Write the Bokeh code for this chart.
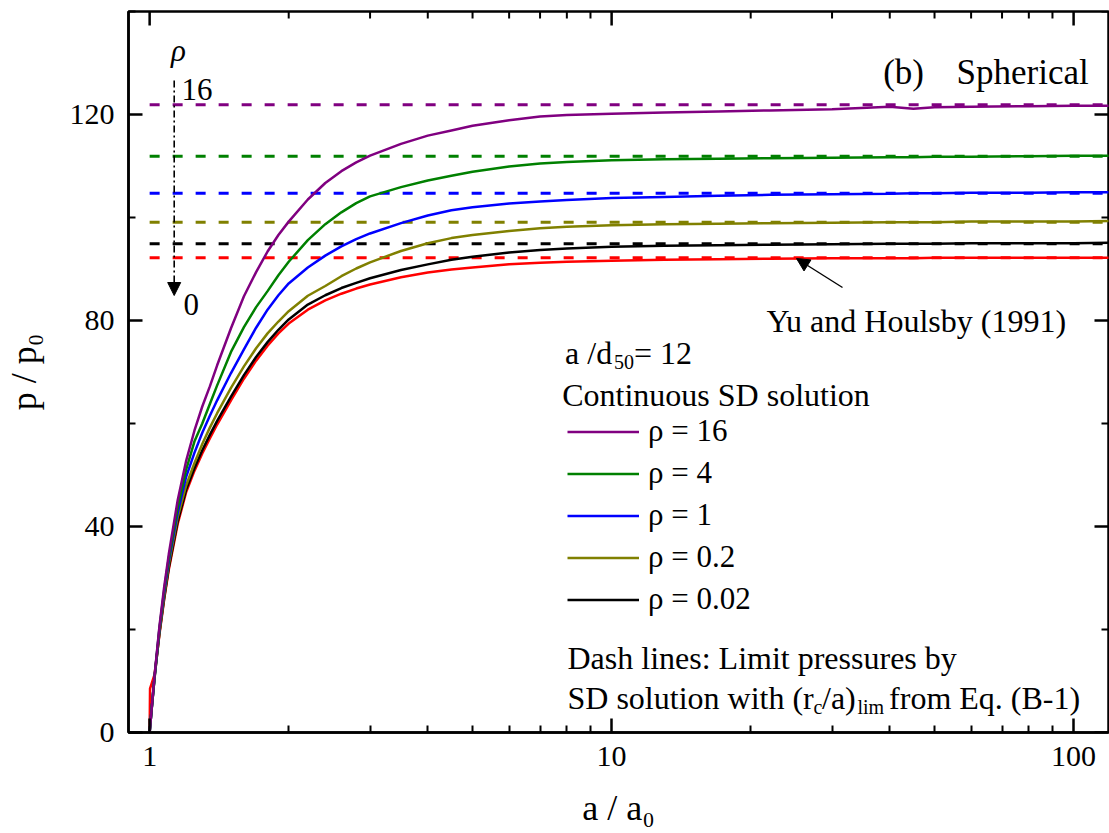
import numpy as np
from bokeh.plotting import figure
from bokeh.models import (FixedTicker, Label, Arrow, NormalHead, Legend, LegendItem, Range1d,
                          PrintfTickFormatter)
from bokeh.embed import file_html
from bokeh.resources import INLINE

# ---------------- data ----------------
a_ratio = [1, 1.002, 1.01, 1.025, 1.05, 1.075, 1.1, 1.15, 1.2, 1.25, 1.3, 1.35, 1.4, 1.5, 1.6,
           1.7, 1.8, 1.9, 2, 2.2, 2.4, 2.6, 2.8, 3, 3.5, 4, 4.5, 5, 6, 7, 8, 10, 13, 17, 22,
           30, 40, 45, 50, 60, 80, 100, 120]

p_rho16 = [0, 0.95, 4.6, 11.1, 20.6, 28.2, 34.6, 45.1, 52.8, 58.6, 63.3, 67.2, 71.3, 78.5, 84.7,
           89.4, 93.4, 96.6, 99.2, 103.5, 106.7, 109.0, 110.7, 112.0, 114.3, 115.9, 116.9, 117.8,
           118.9, 119.6, 119.9, 120.15, 120.4, 120.6, 120.8, 121.0, 121.5, 121.1, 121.4, 121.5,
           121.6, 121.7, 121.7]
p_rho4 = [0, 0.93, 4.55, 10.9, 20.2, 27.6, 33.9, 43.7, 51.1, 56.5, 60.0, 63.8, 67.4, 73.9, 78.7,
          82.6, 85.7, 88.8, 91.4, 95.6, 98.7, 101.0, 102.8, 104.1, 105.9, 107.2, 108.1, 108.9,
          109.9, 110.5, 110.8, 111.1, 111.3, 111.4, 111.5, 111.6, 111.7, 111.7, 111.8, 111.8,
          111.9, 112.0, 112.0]
p_rho1 = [0, 0.95, 4.5, 10.8, 20.0, 27.1, 33.3, 42.7, 49.7, 54.3, 58.2, 61.5, 64.5, 69.8, 74.4,
          78.6, 82.1, 84.9, 87.2, 90.3, 92.6, 94.4, 95.8, 96.9, 98.9, 100.4, 101.4, 102.0,
          102.7, 103.1, 103.4, 103.8, 104.0, 104.2, 104.4, 104.5, 104.6, 104.7, 104.7, 104.8,
          104.8, 104.9, 104.9]
p_rho02 = [0, 0.95, 4.45, 10.6, 19.5, 26.5, 32.6, 41.8, 48.0, 52.3, 56.0, 59.2, 62.0, 66.9, 71.1,
           74.6, 77.5, 79.8, 81.8, 84.8, 86.7, 88.6, 90.1, 91.3, 93.5, 95.0, 96.0, 96.6,
           97.4, 97.9, 98.2, 98.5, 98.7, 98.8, 98.9, 99.0, 99.1, 99.1, 99.1, 99.2,
           99.2, 99.2, 99.3]
p_rho002 = [0, 0.93, 4.5, 10.7, 19.3, 26.1, 32.0, 41.0, 47.2, 51.3, 54.8, 57.8, 60.5, 65.2, 69.4,
            72.9, 75.8, 78.2, 80.2, 83.1, 84.9, 86.3, 87.3, 88.2, 89.8, 90.9, 91.8, 92.4,
            93.2, 93.7, 94.0, 94.3, 94.5, 94.6, 94.7, 94.8, 94.9, 94.9, 94.9, 95.0,
            95.0, 95.0, 95.1]
p_yu_houlsby = [0, 8.5, 9.5, 11.3, 19.0, 25.8, 31.6, 40.5, 46.7, 50.8, 54.2, 57.1, 59.8, 64.5, 68.7,
                72.2, 75.1, 77.5, 79.4, 82.1, 83.9, 85.2, 86.2, 87.0, 88.4, 89.3, 89.9, 90.3,
                90.9, 91.2, 91.4, 91.6, 91.8, 91.9, 92.0, 92.1, 92.1, 92.1, 92.2, 92.2,
                92.2, 92.2, 92.2]

series_labels = ["ρ = 16", "ρ = 4", "ρ = 1", "ρ = 0.2", "ρ = 0.02"]
series_colors = ["#800080", "#008000", "#0000FF", "#808000", "#000000"]
series_values = [p_rho16, p_rho4, p_rho1, p_rho02, p_rho002]

limit_values = [121.9, 111.9, 104.7, 99.1, 94.9, 92.2]
limit_colors = ["#800080", "#008000", "#0000FF", "#808000", "#000000", "#FF0000"]
limit_start, limit_end = 1.0, 120.0

x_major = [1, 10, 100]
x_minor = [2, 3, 4, 5, 6, 7, 8, 9, 20, 30, 40, 50, 60, 70, 80, 90]
y_major = [0, 40, 80, 120]
y_minor = [20, 60, 100, 140]

# ---------------- layout helpers (page px -> data) ----------------
FRAME_L, FRAME_T, FRAME_W, FRAME_H = 127, 11, 980, 721
X0, X1 = 0.9, 119.0
Y0, Y1 = 0.0, 140.0
FONT = "Liberation Serif"


def dx(px):
    return 10 ** (np.log10(X0) + (px - FRAME_L) / FRAME_W * (np.log10(X1) - np.log10(X0)))


def dy(py):
    return Y0 + (FRAME_T + FRAME_H - py) / FRAME_H * (Y1 - Y0)


p = figure(x_axis_type="log", x_range=Range1d(X0, X1), y_range=Range1d(Y0, Y1),
           frame_width=FRAME_W, frame_height=FRAME_H,
           min_border_left=FRAME_L, min_border_top=FRAME_T,
           min_border_right=2, min_border_bottom=101,
           output_backend="svg", toolbar_location=None)
p.outline_line_color = "black"
p.outline_line_width = 2.5
p.xgrid.visible = False
p.ygrid.visible = False
p.background_fill_color = "white"
p.border_fill_color = "white"

xt = FixedTicker(ticks=x_major, minor_ticks=x_minor)
yt = FixedTicker(ticks=y_major, minor_ticks=y_minor)

for ax in (p.xaxis[0], p.yaxis[0]):
    ax.axis_line_width = 2.5
    ax.axis_line_color = "black"
    ax.major_tick_in = 14
    ax.major_tick_out = 0
    ax.minor_tick_in = 7
    ax.minor_tick_out = 0
    ax.major_tick_line_width = 2.5
    ax.minor_tick_line_width = 2
    ax.major_label_text_font = FONT
    ax.major_label_text_font_size = "30px"
    ax.major_label_text_color = "black"
    ax.major_label_standoff = 14
    ax.axis_label_text_font = FONT
    ax.axis_label_text_font_size = "36px"
    ax.axis_label_text_font_style = "normal"
    ax.axis_label_text_color = "black"

p.xaxis[0].ticker = xt
p.xaxis[0].formatter = PrintfTickFormatter(format="%d")
p.xaxis[0].axis_label = "a / a₀"
p.xaxis[0].axis_label_standoff = 19
p.yaxis[0].ticker = yt
p.yaxis[0].axis_label = "p / p₀"
p.yaxis[0].axis_label_standoff = 23

# mirrored inward ticks on top and right edges (dash markers clipped by the frame)
p.scatter(x_major, [Y1] * len(x_major), marker="dash", angle=np.pi / 2, size=28,
          line_color="black", line_width=2.5)
p.scatter(x_minor, [Y1] * len(x_minor), marker="dash", angle=np.pi / 2, size=14,
          line_color="black", line_width=2)
p.scatter([X1] * len(y_major), y_major, marker="dash", size=28, line_color="black", line_width=2.5)
p.scatter([X1] * len(y_minor), y_minor, marker="dash", size=14, line_color="black", line_width=2)

# dashed limit pressures
for v, c in zip(limit_values, limit_colors):
    p.line([limit_start, limit_end], [v, v], line_color=c, line_width=3, line_dash="10 13")

# solid curves (red first, purple on top)
p.line(a_ratio, p_yu_houlsby, line_color="#FF0000", line_width=2.5)
renderers = {}
for lab, c, vals in reversed(list(zip(series_labels, series_colors, series_values))):
    renderers[lab] = p.line(a_ratio, vals, line_color=c, line_width=2.5)

legend = Legend(items=[LegendItem(label=lab, renderers=[renderers[lab]]) for lab in series_labels],
                location=(566 - FRAME_L, FRAME_T + FRAME_H - 617),
                glyph_width=72, glyph_height=35, label_height=35, spacing=6,
                label_standoff=9, padding=0, margin=0,
                label_text_font=FONT, label_text_font_size="31px", label_text_color="black",
                border_line_color=None, background_fill_alpha=0)
p.add_layout(legend)


def txt(s, px, py, size=32, italic=False, align="left", baseline="alphabetic"):
    p.add_layout(Label(x=dx(px), y=dy(py), text=s, text_font=FONT,
                       text_font_size=f"{size}px",
                       text_font_style="italic" if italic else "normal",
                       text_align=align, text_baseline=baseline, text_color="black"))


txt("(b)", 881.7, 71.7, size=35)
txt("Spherical", 955, 71.7, size=35)
txt("Yu and Houlsby (1991)", 765, 320)
txt("a /d", 563.6, 352)
txt("50", 612.6, 361.5, size=20)
txt("= 12", 632.5, 352)
txt("Continuous SD solution", 560.7, 394)
txt("Dash lines: Limit pressures by", 566, 657)
txt("SD solution with (r", 566, 697)
txt("c", 812, 706.5, size=20)
txt("/a)", 820.5, 697)
txt("lim", 856, 706.5, size=20)
txt("from Eq. (B-1)", 887.6, 697)
txt("ρ", 177, 50, size=31, italic=True, align="center", baseline="middle")
txt("16", 180, 89, size=31)
txt("0", 182, 304, size=31)

# arrows
p.add_layout(Arrow(x_start=dx(172.7), y_start=dy(80), x_end=dx(172.7), y_end=dy(295),
                   line_dash="7 3 2 3", line_width=1.6, line_color="black",
                   end=NormalHead(size=13, fill_color="black", line_color="black")))
p.add_layout(Arrow(x_start=dx(841), y_start=dy(287), x_end=dx(795), y_end=dy(258),
                   line_width=1.4, line_color="black",
                   end=NormalHead(size=13, fill_color="black", line_color="black")))

open("out.html", "w").write(file_html(p, INLINE))
